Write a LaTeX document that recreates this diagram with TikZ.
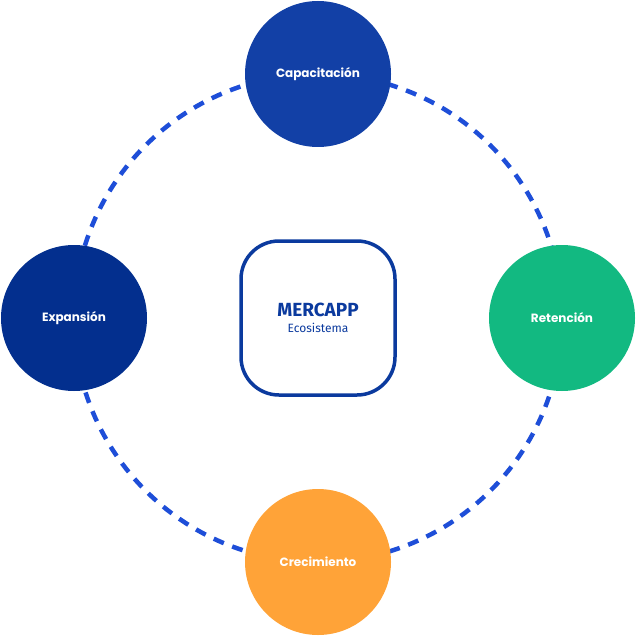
\documentclass[tikz,border=0pt]{standalone}
\usepackage{fontspec}
\setmainfont{Poppins}
\newfontfamily\firafont{Fira Sans}
\definecolor{capblue}{HTML}{1240A6}
\definecolor{expblue}{HTML}{032F8E}
\definecolor{retgreen}{HTML}{12B981}
\definecolor{creorange}{HTML}{FFA338}
\definecolor{ringblue}{HTML}{1E4ED8}
\definecolor{boxblue}{HTML}{0B3A9E}
\tikzset{
  stage/.style={circle,minimum size=146pt,inner sep=0pt,text=white,font=\fontsize{12}{14}\selectfont\bfseries},
  ring/.style={draw=ringblue,line width=4.5pt,dash pattern=on 11pt off 9pt}
}
\begin{document}
\begin{tikzpicture}[x=1pt,y=-1pt]
\useasboundingbox (0,0) rectangle (636,636);
\coordinate (mid) at (318,318);
% dashed ring behind the stages
\draw[ring] (mid) circle (244);
\node[stage,fill=capblue] (cap) at (318,74) {Capacitación};
\node[stage,fill=expblue] (exp) at (74,318) {Expansión};
\node[stage,fill=retgreen] (ret) at (562,318) {Retención};
\node[stage,fill=creorange] (cre) at (318,562) {Crecimiento};
% center box
\node[draw=boxblue,line width=3.5pt,fill=white,rounded corners=38pt,minimum size=154pt,align=center] (core) at (mid)
  {{\firafont\fontsize{19}{22}\selectfont\bfseries\color{boxblue}MERCAPP}\\[4pt]{\firafont\fontsize{12}{14}\selectfont\color{boxblue}Ecosistema}};
\end{tikzpicture}
\end{document}
